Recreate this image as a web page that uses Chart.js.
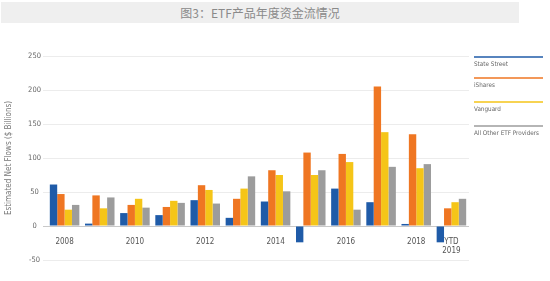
<!DOCTYPE html>
<html>
<head>
<meta charset="utf-8">
<script src="https://cdn.jsdelivr.net/npm/chart.js@4"></script>
<style>
  body { margin: 0; background: #fff; }
  #wrap { position: relative; width: 550px; height: 281px; }
  #title {
    position: absolute; left: 1px; top: 2px; width: 518px; height: 21px;
    background: #efefef; color: #8a8a8a; text-align: center;
    font: 12px "Noto Sans CJK SC", sans-serif; line-height: 21px;
  }
  canvas { position: absolute; left: 0; top: 0; }
</style>
</head>
<body>
<div id="wrap">
  <canvas id="chart" width="550" height="281"></canvas>
  <div id="title">图3：ETF产品年度资金流情况</div>
</div>
<script>
const years = ["2008", "2009", "2010", "2011", "2012", "2013", "2014", "2015", "2016", "2017", "2018", "YTD 2019"];
const stateStreet = [61, 3.5, 19, 16, 38, 12, 36, -24, 55, 35, 3, -24];
const iShares = [47, 45, 31, 28, 60, 40, 82, 108, 106, 205, 135, 26];
const vanguard = [24, 26, 40, 37, 53, 55, 75, 75, 94, 138, 85, 35];
const allOther = [31, 42, 27, 34, 33, 73, 51, 82, 24, 87, 91, 40];
const yTicks = [-50, 0, 50, 100, 150, 200, 250];

const series = [
  { label: "State Street", data: stateStreet, color: "#1f5ba8" },
  { label: "iShares", data: iShares, color: "#ef7622" },
  { label: "Vanguard", data: vanguard, color: "#f5c518" },
  { label: "All Other ETF Providers", data: allOther, color: "#9c9c9c" }
];

const narrow = "'Liberation Sans Narrow', 'DejaVu Sans Condensed', sans-serif";

// legend on the right: a coloured line above each name
const sideLegend = {
  id: "sideLegend",
  afterDraw(chart) {
    const c = chart.ctx;
    const rows = [57, 78, 102, 126];
    c.save();
    chart.data.datasets.forEach((ds, i) => {
      const y = rows[i];
      c.strokeStyle = ds.backgroundColor;
      c.lineWidth = 1.5;
      c.beginPath();
      c.moveTo(474, y);
      c.lineTo(543, y);
      c.stroke();
      c.fillStyle = "#666";
      c.font = "6.3px " + narrow;
      c.textBaseline = "middle";
      c.fillText(ds.label, 474, y + 7);
    });
    c.restore();
  }
};

const ctx = document.getElementById("chart").getContext("2d");
new Chart(ctx, {
  type: "bar",
  data: {
    labels: years,
    datasets: series.map(s => ({
      label: s.label,
      data: s.data,
      backgroundColor: s.color,
      categoryPercentage: 0.84,
      barPercentage: 1.0
    }))
  },
  options: {
    responsive: false,
    animation: false,
    layout: { padding: { top: 56, bottom: 21, left: 4, right: 81 } },
    plugins: {
      legend: { display: false },
      tooltip: { enabled: false }
    },
    scales: {
      x: {
        position: { y: 0 },
        grid: { display: false },
        border: { display: false },
        ticks: {
          autoSkip: false,
          maxRotation: 0,
          padding: 3,
          color: "#555",
          font: { family: narrow, size: 8 },
          callback: function (v, i) {
            const lab = this.getLabelForValue(v);
            if (lab === "YTD 2019") return ["YTD", "2019"];
            return i % 2 === 0 ? lab : "";
          }
        }
      },
      y: {
        min: -50,
        max: 250,
        afterBuildTicks: s => { s.ticks = yTicks.map(v => ({ value: v })); },
        afterFit: s => { s.width = 43; },
        border: { display: false },
        grid: {
          color: c => c.tick && c.tick.value === 0 ? "#c9c9c9" : "#ececec",
          tickColor: c => c.tick && c.tick.value === 0 ? "#c9c9c9" : "#ececec",
          tickLength: 4
        },
        ticks: {
          color: "#666",
          crossAlign: "center",
          padding: 2,
          font: { family: narrow, size: 7.5 }
        },
        title: {
          display: true,
          text: "Estimated Net Flows ($ Billions)",
          color: "#777",
          font: { family: narrow, size: 8 },
          padding: { top: 0, bottom: 2 }
        }
      }
    }
  },
  plugins: [sideLegend]
});
</script>
</body>
</html>
